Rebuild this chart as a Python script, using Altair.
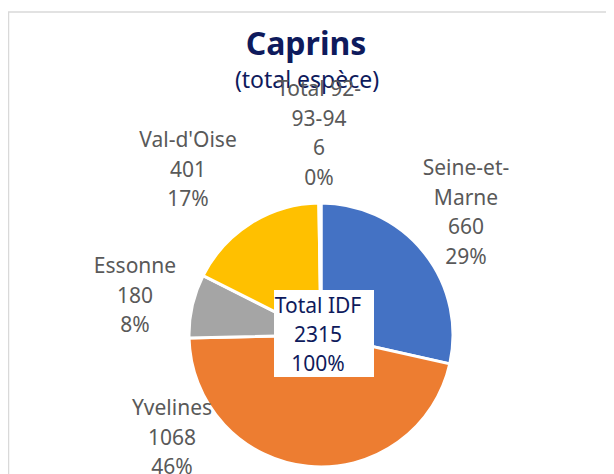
import altair as alt
import pandas as pd

# ---- data ----
categories = ["Seine-et-Marne", "Yvelines", "Essonne", "Val-d'Oise", "Total 92-93-94"]
values = [660, 1068, 180, 401, 6]
colors = ["#4472C4", "#ED7D31", "#A5A5A5", "#FFC000", "#5B9BD5"]
wrapped = {"Seine-et-Marne": "Seine-et-\nMarne", "Total 92-93-94": "Total 92-\n93-94"}
title_text = "Caprins"
subtitle_text = "(total espèce)"
total_label = "Total IDF"

total = sum(values)

# ---- layout (pixel positions of annotations, chart coordinates) ----
W, H = 598, 466
CX, CY, R = 313, 327, 132
label_pos = {
    "Seine-et-Marne": (458, 167),
    "Yvelines": (164, 407),
    "Essonne": (127, 265),
    "Val-d'Oise": (180, 139),
    "Total 92-93-94": (311, 88),
}
GRAY = "#595959"
NAVY = "#0E1A5C"
FONT = "Noto Sans"

df = pd.DataFrame({"category": categories, "value": values, "idx": list(range(len(categories)))})

lab = pd.DataFrame({
    "text": [f"{wrapped.get(c, c)}\n{v}\n{round(v / total * 100)}%" for c, v in zip(categories, values)],
    "lx": [label_pos[c][0] for c in categories],
    "ly": [label_pos[c][1] for c in categories],
})

center = pd.DataFrame({"text": [f"{total_label}\n{total}\n{round(total / total * 100)}%"],
                       "lx": [310], "ly": [305]})

titles = pd.DataFrame({"text": [title_text, subtitle_text], "lx": [298, 299], "ly": [47, 80],
                       "kind": ["t", "s"]})

border_top = alt.Chart(pd.DataFrame({"a": [0]})).mark_rule(color="#D9D9D9", strokeWidth=1.5).encode(
    x=alt.value(0), x2=alt.value(W), y=alt.value(4))
border_left = alt.Chart(pd.DataFrame({"a": [0]})).mark_rule(color="#D9D9D9", strokeWidth=1.5).encode(
    x=alt.value(0.5), y=alt.value(4), y2=alt.value(H))

pie = alt.Chart(df).mark_arc(outerRadius=R, stroke="white", strokeWidth=3).encode(
    theta=alt.Theta("value:Q", stack=True),
    color=alt.Color("category:N", scale=alt.Scale(domain=categories, range=colors), legend=None),
    order=alt.Order("idx:Q"),
    x=alt.value(CX), y=alt.value(CY),
)

labels = alt.Chart(lab).mark_text(
    lineBreak="\n", lineHeight=29.5, align="center", baseline="alphabetic",
    font=FONT, fontSize=21, color=GRAY,
).encode(x=alt.X("lx:Q", scale=None), y=alt.Y("ly:Q", scale=None), text="text:N")

box = alt.Chart(pd.DataFrame({"a": [0]})).mark_rect(color="white").encode(
    x=alt.value(266), x2=alt.value(366), y=alt.value(282), y2=alt.value(369))

center_txt = alt.Chart(center).mark_text(
    lineBreak="\n", lineHeight=29, align="center", baseline="alphabetic",
    font=FONT, fontSize=21, color=NAVY,
).encode(x=alt.X("lx:Q", scale=None), y=alt.Y("ly:Q", scale=None), text="text:N")

title = alt.Chart(titles[titles.kind == "t"]).mark_text(
    align="center", baseline="alphabetic", font=FONT, fontSize=32, fontWeight="bold", color=NAVY,
).encode(x=alt.X("lx:Q", scale=None), y=alt.Y("ly:Q", scale=None), text="text:N")

subtitle = alt.Chart(titles[titles.kind == "s"]).mark_text(
    align="center", baseline="alphabetic", font=FONT, fontSize=23, color=NAVY,
).encode(x=alt.X("lx:Q", scale=None), y=alt.Y("ly:Q", scale=None), text="text:N")

chart = alt.layer(border_top, border_left, pie, title, subtitle, labels, box, center_txt).properties(
    width=W, height=H, padding=0, autosize="none", background="white",
).configure_view(stroke=None)

chart.save("out.html", embed_options={"renderer": "svg", "actions": False})
